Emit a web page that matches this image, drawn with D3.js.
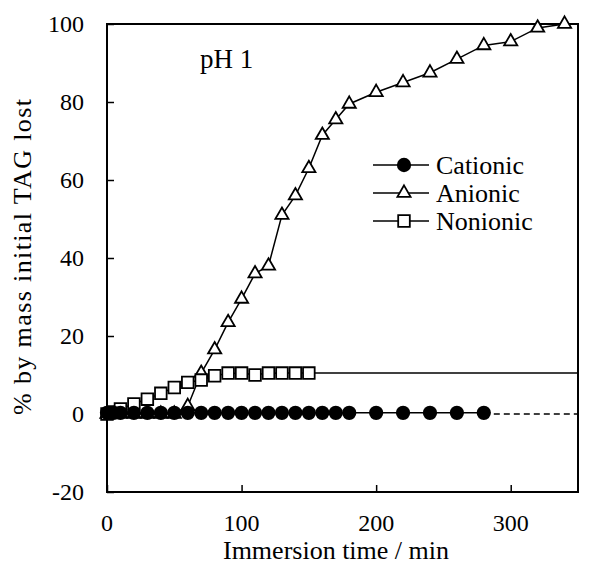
<!DOCTYPE html>
<html>
<head>
<meta charset="UTF-8">
<title>pH 1 TAG loss</title>
<style>
  body { margin: 0; background: #fff; }
  svg text { font-family: "Times New Roman", "Liberation Serif", Times, "DejaVu Serif", serif; fill: #000; }
  .frame { fill: none; stroke: #000; stroke-width: 2; }
  .curve { fill: none; stroke: #000; stroke-width: 1.5; }
</style>
</head>
<body>
<div id="chart"></div>
<script src="https://cdn.jsdelivr.net/npm/d3@7"></script>
<script>
const cationicTime = [0, 5, 10, 20, 30, 40, 50, 60, 70, 80, 90, 100, 110, 120, 130, 140, 150, 160, 170, 180, 200, 220, 240, 260, 280];
const cationicLoss = [0.3, 0.3, 0.3, 0.3, 0.3, 0.3, 0.3, 0.3, 0.3, 0.3, 0.3, 0.3, 0.3, 0.3, 0.3, 0.3, 0.3, 0.3, 0.3, 0.3, 0.3, 0.3, 0.3, 0.3, 0.3];
const cationicTail = [[280, 0], [350, 0]];

const anionicTime = [0, 10, 20, 30, 40, 50, 60, 70, 80, 90, 100, 110, 120, 130, 140, 150, 160, 170, 180, 200, 220, 240, 260, 280, 300, 320, 340];
const anionicLoss = [0, 0, 0, 0, 0, 0, 2, 10.5, 16.5, 23.5, 29.5, 36, 38, 51, 56, 63, 71.5, 75.5, 79.5, 82.5, 85, 87.5, 91, 94.5, 95.5, 99, 100];

const nonionicTime = [0, 5, 10, 20, 30, 40, 50, 60, 70, 80, 90, 100, 110, 120, 130, 140, 150];
const nonionicLoss = [0, 0.5, 1.3, 2.6, 3.8, 5.3, 6.8, 8.1, 8.7, 9.8, 10.5, 10.5, 10, 10.5, 10.5, 10.5, 10.5];
const nonionicTail = [[150, 10.5], [350, 10.5]];

const xTicks = [0, 100, 200, 300];
const yTicks = [-20, 0, 20, 40, 60, 80, 100];
const legendNames = ["Cationic", "Anionic", "Nonionic"];

const W = 589, H = 573;
const m = { left: 107, right: 11, top: 24, bottom: 81 };
const TICKFONT = 24, FONT = 26;

const svg = d3.select("#chart").append("svg")
    .attr("width", W)
    .attr("height", H);

const x = d3.scaleLinear().domain([0, 350]).range([m.left, W - m.right]);
const y = d3.scaleLinear().domain([-20, 100]).range([H - m.bottom, m.top]);

// axes, ticks point inwards
svg.append("g")
    .attr("transform", `translate(0,${y(-20)})`)
    .call(d3.axisTop(x).tickValues(xTicks).tickSize(7).tickFormat(""))
    .call(g => g.select(".domain").remove())
    .selectAll("line").attr("stroke-width", 1.5);
svg.append("g")
    .attr("transform", `translate(${x(0)},0)`)
    .call(d3.axisRight(y).tickValues(yTicks).tickSize(7).tickFormat(""))
    .call(g => g.select(".domain").remove())
    .selectAll("line").attr("stroke-width", 1.5);

svg.append("rect").attr("class", "frame")
    .attr("x", x(0)).attr("y", y(100))
    .attr("width", x(350) - x(0)).attr("height", y(-20) - y(100));

svg.append("g").selectAll("text")
    .data(xTicks).enter().append("text")
    .attr("x", d => x(d))
    .attr("y", y(-20) + 39)
    .attr("text-anchor", "middle")
    .attr("font-size", TICKFONT)
    .text(d => d);
svg.append("g").selectAll("text")
    .data(yTicks).enter().append("text")
    .attr("x", x(0) - 23)
    .attr("y", d => y(d) + 8)
    .attr("text-anchor", "end")
    .attr("font-size", TICKFONT)
    .text(d => d);

svg.append("text")
    .attr("x", 336).attr("y", 559)
    .attr("text-anchor", "middle")
    .attr("font-size", FONT)
    .text("Immersion time / min");
svg.append("text")
    .attr("transform", `translate(31,257) rotate(-90)`)
    .attr("text-anchor", "middle")
    .attr("font-size", FONT)
    .attr("textLength", 316)
    .attr("lengthAdjust", "spacing")
    .text("% by mass initial TAG lost");
svg.append("text")
    .attr("x", 200).attr("y", 68)
    .attr("font-size", 27)
    .text("pH 1");

const cationic = cationicTime.map((t, i) => [t, cationicLoss[i]]);
const anionic = anionicTime.map((t, i) => [t, anionicLoss[i]]);
const nonionic = nonionicTime.map((t, i) => [t, nonionicLoss[i]]);

const line = d3.line().x(d => x(d[0])).y(d => y(d[1]));
const smooth = d3.line().x(d => x(d[0])).y(d => y(d[1])).curve(d3.curveBasis);

svg.append("path").attr("class", "curve").attr("d", line(anionic));
svg.append("path").attr("class", "curve").attr("d", smooth(nonionic));
svg.append("path").attr("class", "curve").attr("d", line(nonionicTail));
svg.append("path").attr("class", "curve").attr("d", line(cationic));
svg.append("path").attr("class", "curve").attr("d", line(cationicTail))
    .attr("stroke-dasharray", "6,4");

const tri = d3.symbol().type(d3.symbolTriangle).size(75);
const sq = d3.symbol().type(d3.symbolSquare).size(135);
const dot = d3.symbol().type(d3.symbolCircle).size(160);

function drawMarkers(data, kind) {
    const g = svg.append("g");
    const sel = g.selectAll("path").data(data).enter().append("path")
        .attr("transform", d => `translate(${x(d[0])},${y(d[1])})`);
    if (kind === "circle") {
        sel.attr("d", dot).attr("fill", "#000");
    } else {
        sel.attr("d", kind === "tri" ? tri : sq)
            .attr("fill", "#fff").attr("stroke", "#000").attr("stroke-width", 1.8);
    }
}
drawMarkers(anionic, "tri");
drawMarkers(nonionic, "sq");
drawMarkers(cationic, "circle");

// legend
const legend = svg.append("g");
const kinds = ["circle", "tri", "sq"];
legendNames.forEach((name, i) => {
    const ly = 165 + i * 28;
    legend.append("line")
        .attr("x1", 373).attr("x2", 429).attr("y1", ly).attr("y2", ly)
        .attr("stroke", "#000").attr("stroke-width", 1.5);
    const p = legend.append("path").attr("transform", `translate(404,${ly})`);
    if (kinds[i] === "circle") p.attr("d", dot).attr("fill", "#000");
    else p.attr("d", kinds[i] === "tri" ? tri : sq).attr("fill", "#fff").attr("stroke", "#000").attr("stroke-width", 1.8);
    legend.append("text")
        .attr("x", 436).attr("y", ly + 9)
        .attr("font-size", FONT)
        .text(name);
});
</script>
</body>
</html>
